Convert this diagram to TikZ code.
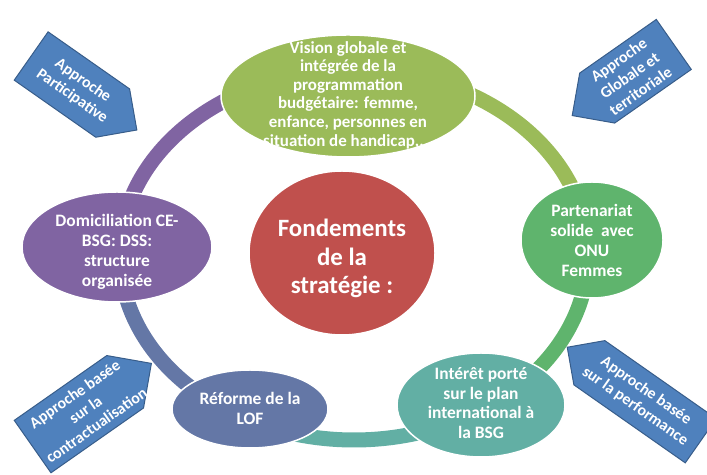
\documentclass[tikz,border=0pt]{standalone}
\usepackage{fontspec}
\setmainfont{Carlito}
\usetikzlibrary{shapes.geometric}

\definecolor{vertOlive}{HTML}{9BBB59}
\definecolor{vertMoyen}{HTML}{5FB46D}
\definecolor{sarcelle}{HTML}{62AFA4}
\definecolor{ardoise}{HTML}{6477A6}
\definecolor{violet}{HTML}{8064A2}
\definecolor{rougeBrique}{HTML}{C0504D}
\definecolor{bleuFleche}{HTML}{4F81BD}
\definecolor{bordFleche}{HTML}{385D8A}

% texte centre, sans taille propre (la forme garde ses dimensions)
\newcommand{\bloc}[2][-0.25em]{\makebox[0pt]{\smash{\raisebox{#1}{\begin{tabular}{@{}c@{}}#2\end{tabular}}}}}

\begin{document}
\begin{tikzpicture}[x=1bp,y=1bp]
            % Styles
            \tikzstyle{anneau}=[line width=15bp]
            \tikzstyle{bulle}=[ellipse,draw=white,line width=1.5bp,inner sep=0pt,text=white,font=\bfseries\fontsize{17.5}{20}\selectfont]
            \tikzstyle{fleche}=[fill=bleuFleche,draw=bordFleche,line width=1bp]
            \tikzstyle{legende}=[inner sep=0pt,align=center,text=white,font=\bfseries\fontsize{16}{19}\selectfont]
            % Dimensions de l'anneau
            \def\CentreX{354}
            \def\CentreY{220}
            \def\RayonX{234}
            \def\RayonY{185}
            \useasboundingbox (0,0) rectangle (707,475);
            % Points de l'anneau
            \coordinate (Pa) at ({\CentreX+\RayonX*cos(90)},{\CentreY+\RayonY*sin(90)});
            \coordinate (Pb) at ({\CentreX+\RayonX*cos(5)},{\CentreY+\RayonY*sin(5)});
            \coordinate (Pc) at ({\CentreX+\RayonX*cos(-56)},{\CentreY+\RayonY*sin(-56)});
            \coordinate (Pd) at ({\CentreX+\RayonX*cos(-117)},{\CentreY+\RayonY*sin(-117)});
            \coordinate (Pe) at ({\CentreX+\RayonX*cos(-182)},{\CentreY+\RayonY*sin(-182)});
            % Arcs
            \draw[anneau,vertOlive] (Pa) arc[start angle=90,end angle=5,x radius=\RayonX,y radius=\RayonY];
            \draw[anneau,vertMoyen] (Pb) arc[start angle=5,end angle=-56,x radius=\RayonX,y radius=\RayonY];
            \draw[anneau,sarcelle] (Pc) arc[start angle=-56,end angle=-117,x radius=\RayonX,y radius=\RayonY];
            \draw[anneau,ardoise] (Pd) arc[start angle=-117,end angle=-182,x radius=\RayonX,y radius=\RayonY];
            \draw[anneau,violet] (Pe) arc[start angle=-182,end angle=-270,x radius=\RayonX,y radius=\RayonY];
            % Noeuds
            \node[bulle,fill=rougeBrique,minimum width=186bp,minimum height=164bp,font=\bfseries\fontsize{25}{29}\selectfont] (fondements) at (342,222) {\bloc[-0.5em]{Fondements\\de la\\stratégie :}};
            \node[bulle,fill=vertOlive,minimum width=254bp,minimum height=122bp,font=\bfseries\fontsize{17}{18.7}\selectfont] (vision) at (348,379) {\bloc{Vision globale et\\intégrée de la\\programmation\\budgétaire: femme,\\enfance, personnes en\\situation de handicap,...}};
            \node[bulle,fill=vertMoyen,minimum width=142bp,minimum height=116bp] (partenariat) at (592,235) {\bloc[-0.4em]{Partenariat\\solide~ avec\\ONU\\Femmes}};
            \node[bulle,fill=sarcelle,minimum width=168bp,minimum height=104bp] (interet) at (481,70) {\bloc{Intérêt porté\\sur le plan\\international à\\la BSG}};
            \node[bulle,fill=ardoise,minimum width=156bp,minimum height=78bp] (reforme) at (250,66) {\bloc[-0.35em]{Réforme de la\\LOF}};
            \node[bulle,fill=violet,minimum width=190bp,minimum height=110bp] (domiciliation) at (117,228) {\bloc[-0.55em]{Domiciliation CE-\\BSG: DSS:\\structure\\organisée}};
            % Fleches (approches)
            \begin{scope}[shift={(84,382)},rotate=-35]
                \draw[fleche] (-64.5,-29.5) -- (35,-29.5) -- (64.5,0) -- (35,29.5) -- (-64.5,29.5) -- cycle;
                \node[legende,rotate=-35] (participative) at (-8,0) {Approche\\Participative};
            \end{scope}
            \begin{scope}[shift={(623,395)},rotate=35]
                \draw[fleche] (62,-30.5) -- (-31.5,-30.5) -- (-62,0) -- (-31.5,30.5) -- (62,30.5) -- cycle;
                \node[legende,rotate=35] (territoriale) at (8,0) {Approche\\Globale et\\territoriale};
            \end{scope}
            \begin{scope}[shift={(92,70)},rotate=35]
                \draw[fleche] (-72.5,-32) -- (40.5,-32) -- (72.5,0) -- (40.5,32) -- (-72.5,32) -- cycle;
                \node[legende,rotate=35] (contractualisation) at (-8,0) {Approche basée\\sur la\\contractualisation};
            \end{scope}
            \begin{scope}[shift={(634,81)},rotate=-35]
                \draw[fleche] (81.5,-27) -- (-54.5,-27) -- (-81.5,0) -- (-54.5,27) -- (81.5,27) -- cycle;
                \node[legende,rotate=-35] (performance) at (8,0) {Approche basée\\sur la performance};
            \end{scope}
\end{tikzpicture}
\end{document}
